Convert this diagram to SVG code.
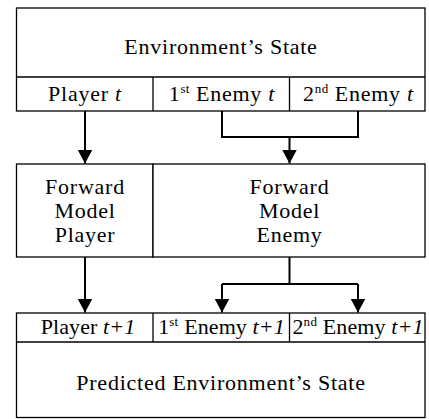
<svg xmlns="http://www.w3.org/2000/svg" width="429" height="419" viewBox="0 0 429 419">
<style>
.box{fill:#fff;stroke:#000;stroke-width:1.3}
.ln{fill:none;stroke:#000;stroke-width:1.3}
.t{font-family:'Liberation Serif','DejaVu Serif','Times New Roman',serif;font-size:22px;letter-spacing:0.75px;text-anchor:middle;fill:#000}
.tn{letter-spacing:0.1px}
.i{font-style:italic}
.sup{font-size:13px;letter-spacing:0.3px}
.c{fill:none;stroke:#000;stroke-width:2}
</style>
<defs>
<marker id="ah" markerUnits="userSpaceOnUse" markerWidth="16" markerHeight="16" refX="14" refY="7.5" orient="auto">
<path d="M0,0 L14,7.5 L0,15 Z" fill="#000"/>
</marker>
</defs>
<rect width="429" height="419" fill="#fff"/>
<g id="env-state">
<rect class="box" x="16.5" y="8" width="408.5" height="103"/>
<line class="ln" x1="16.5" y1="77" x2="425" y2="77"/>
<line class="ln" x1="153" y1="77" x2="153" y2="111"/>
<line class="ln" x1="289.5" y1="77" x2="289.5" y2="111"/>
<text class="t" x="221" y="54">Environment’s State</text>
<text class="t" x="85" y="101">Player <tspan class="i">t</tspan></text>
<text class="t" x="222" y="101">1<tspan class="sup" dy="-8">st</tspan><tspan dy="8"> Enemy </tspan><tspan class="i">t</tspan></text>
<text class="t" x="358.5" y="101">2<tspan class="sup" dy="-8">nd</tspan><tspan dy="8"> Enemy </tspan><tspan class="i">t</tspan></text>
</g>
<g id="fm-player">
<rect class="box" x="16.5" y="164" width="136.5" height="93"/>
<text class="t" x="85" y="194">Forward</text>
<text class="t" x="85" y="218">Model</text>
<text class="t" x="85" y="242">Player</text>
</g>
<g id="fm-enemy">
<rect class="box" x="153" y="164" width="272" height="93"/>
<text class="t" x="289.5" y="194">Forward</text>
<text class="t" x="289.5" y="218">Model</text>
<text class="t" x="289.5" y="242">Enemy</text>
</g>
<g id="pred-state">
<rect class="box" x="16.5" y="313" width="408.5" height="104.5"/>
<line class="ln" x1="16.5" y1="342" x2="425" y2="342"/>
<line class="ln" x1="153" y1="313" x2="153" y2="342"/>
<line class="ln" x1="289.5" y1="313" x2="289.5" y2="342"/>
<text class="t tn" x="88" y="334">Player <tspan class="i">t+1</tspan></text>
<text class="t tn" x="221.5" y="334">1<tspan class="sup" dy="-8">st</tspan><tspan dy="8"> Enemy </tspan><tspan class="i">t+1</tspan></text>
<text class="t tn" x="358" y="334">2<tspan class="sup" dy="-8">nd</tspan><tspan dy="8"> Enemy </tspan><tspan class="i">t+1</tspan></text>
<text class="t" x="221" y="390">Predicted Environment’s State</text>
</g>
<g id="connectors">
<line class="c" x1="85" y1="111" x2="85" y2="163.5" marker-end="url(#ah)"/>
<polyline class="c" points="222,111 222,137 358,137 358,111"/>
<line class="c" x1="289.5" y1="137" x2="289.5" y2="163.5" marker-end="url(#ah)"/>
<line class="c" x1="85" y1="257" x2="85" y2="312.5" marker-end="url(#ah)"/>
<line class="c" x1="289.5" y1="257" x2="289.5" y2="284"/>
<line class="c" x1="222" y1="284" x2="358" y2="284"/>
<line class="c" x1="222" y1="284" x2="222" y2="312.5" marker-end="url(#ah)"/>
<line class="c" x1="358" y1="284" x2="358" y2="312.5" marker-end="url(#ah)"/>
</g>
</svg>
